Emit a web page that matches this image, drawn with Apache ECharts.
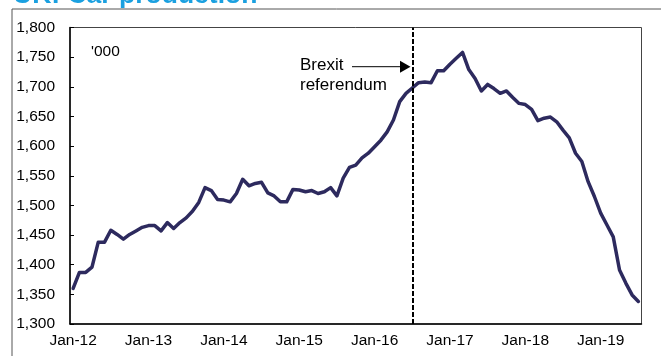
<!DOCTYPE html>
<html>
<head>
<meta charset="utf-8">
<script src="https://cdn.jsdelivr.net/npm/echarts@6/dist/echarts.min.js"></script>
<style>
html,body{margin:0;padding:0;background:#fff;}
#chart{width:661px;height:356px;}
</style>
</head>
<body>
<div id="chart"></div>
<script>
// ---- data ----
const years = ['12','13','14','15','16','17','18','19'];
const monthNames = ['Jan','Feb','Mar','Apr','May','Jun','Jul','Aug','Sep','Oct','Nov','Dec'];
const xTickLabels = ['Jan-12','Jan-13','Jan-14','Jan-15','Jan-16','Jan-17','Jan-18','Jan-19'];
const production = [
  1360,1387,1387,1396,1438,1438,1458,1451,1443,1451,1457,1463,
  1466,1466,1457,1471,1461,1471,1479,1490,1505,1530,1525,1510,
  1509,1506,1520,1544,1533,1537,1539,1521,1516,1506,1506,1527,
  1526,1523,1525,1520,1523,1530,1516,1546,1564,1568,1580,1588,
  1599,1610,1624,1644,1675,1689,1698,1707,1708,1707,1727,1727,
  1738,1748,1758,1729,1714,1693,1704,1697,1689,1693,1682,1672,
  1670,1662,1643,1647,1649,1641,1627,1614,1588,1574,1540,1515,
  1487,1467,1447,1391,1369,1349,1338
];
const brexitMonth = 'Jul-16';
const yMin = 1300, yMax = 1800, yStep = 50;

const categories = [];
for (const y of years) for (const m of monthNames) {
  if (categories.length < production.length) categories.push(m + '-' + y);
}

const chart = echarts.init(document.getElementById('chart'), null, {renderer: 'canvas'});
const font = '"Liberation Sans", Arial, sans-serif';

chart.setOption({
  animation: false,
  backgroundColor: '#fff',
  grid: {left: 70, top: 27.5, right: 19.5, bottom: 32, show: true, borderColor: '#444', borderWidth: 1, backgroundColor: 'transparent'},
  xAxis: {
    type: 'category',
    data: categories,
    boundaryGap: true,
    axisLine: {show: true, lineStyle: {color: '#000', width: 1.5}},
    axisTick: {show: false},
    splitLine: {show: false},
    axisLabel: {
      interval: (i, v) => xTickLabels.indexOf(v) >= 0,
      color: '#000', fontFamily: font, fontSize: 15.5, margin: 9
    }
  },
  yAxis: {
    type: 'value',
    min: yMin, max: yMax, interval: yStep,
    axisLine: {show: true, lineStyle: {color: '#000', width: 1.5}},
    axisTick: {show: true, inside: true, length: 4, lineStyle: {color: '#000'}},
    splitLine: {show: false},
    axisLabel: {
      color: '#000', fontFamily: font, fontSize: 15.5, margin: 15,
      formatter: v => v.toLocaleString('en-US')
    }
  },
  series: [{
    type: 'line',
    data: production,
    showSymbol: false,
    symbol: 'none',
    silent: true,
    lineStyle: {color: '#2d2a5e', width: 3.5, join: 'round', cap: 'round'},
    markLine: {
      silent: true,
      symbol: ['none', 'none'],
      label: {show: false},
      lineStyle: {color: '#000', width: 2, type: [5, 2]},
      data: [{xAxis: brexitMonth}]
    },
    z: 3
  }],
  graphic: [
    {type: 'line', shape: {x1: 12, y1: 9, x2: 661, y2: 9}, style: {stroke: '#555', lineWidth: 1}, silent: true},
    {type: 'line', shape: {x1: 12, y1: 9, x2: 12, y2: 356}, style: {stroke: '#555', lineWidth: 1}, silent: true},
    {type: 'text', left: 13, top: -18, style: {text: 'UK: Car production', fill: '#1aa0e0', font: 'bold 26.5px ' + font}, silent: true},
    {type: 'text', x: 91, y: 51.3, style: {text: "'000", fill: '#000', font: '15.5px ' + font, verticalAlign: 'middle'}, silent: true},
    {type: 'text', x: 300, y: 65.8, style: {text: 'Brexit', fill: '#000', font: '17px ' + font, verticalAlign: 'middle'}, silent: true},
    {type: 'text', x: 300, y: 85.8, style: {text: 'referendum', fill: '#000', font: '17px ' + font, verticalAlign: 'middle'}, silent: true},
    {type: 'line', shape: {x1: 352, y1: 66.7, x2: 402, y2: 66.7}, style: {stroke: '#000', lineWidth: 1}, silent: true},
    {type: 'polygon', shape: {points: [[400, 60.7], [410.5, 66.7], [400, 72.7]]}, style: {fill: '#000'}, silent: true}
  ]
});
</script>
</body>
</html>
